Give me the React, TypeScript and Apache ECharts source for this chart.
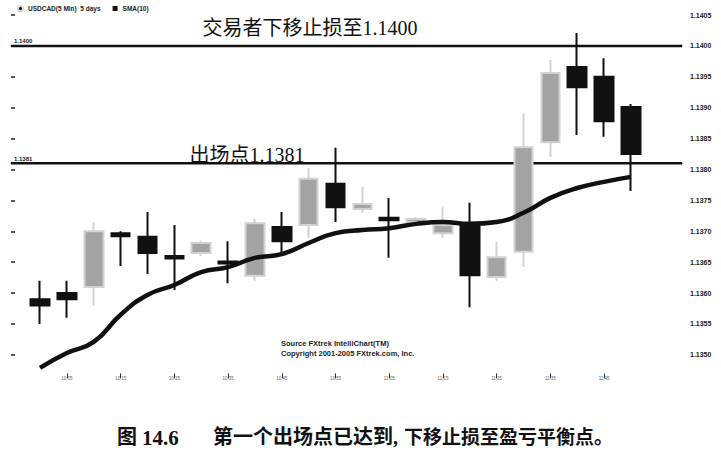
import React, { useEffect, useRef } from 'react';
import * as echarts from 'echarts';

const categories = ['10:00', '10:05', '10:10', '10:15', '10:20', '10:25', '10:30', '10:35', '10:40', '10:45', '10:50', '10:55', '11:00', '11:05', '11:10', '11:15', '11:20', '11:25', '11:30', '11:35', '11:40', '11:45', '11:50'];
const opens = [1.1359, 1.1360, 1.1361, 1.13697, 1.13691, 1.1366, 1.13665, 1.13651, 1.13628, 1.13707, 1.1371, 1.13777, 1.13736, 1.13722, 1.13715, 1.13697, 1.1371, 1.13626, 1.13667, 1.13844, 1.13966, 1.1395, 1.13901];
const closes = [1.1358, 1.1359, 1.1370, 1.13692, 1.13665, 1.13656, 1.13681, 1.13648, 1.13713, 1.13684, 1.13785, 1.13739, 1.13744, 1.13718, 1.1372, 1.1371, 1.13629, 1.13658, 1.13836, 1.13956, 1.13933, 1.13878, 1.13825];
const lows = [1.1355, 1.1356, 1.1358, 1.13644, 1.13631, 1.13605, 1.1366, 1.13616, 1.1362, 1.13665, 1.1369, 1.13715, 1.1373, 1.13657, 1.1371, 1.13689, 1.13577, 1.1362, 1.13642, 1.1382, 1.13856, 1.13853, 1.13765];
const highs = [1.1362, 1.1362, 1.13715, 1.1370, 1.13731, 1.1371, 1.13685, 1.13684, 1.1372, 1.13731, 1.13802, 1.13835, 1.13772, 1.13754, 1.13723, 1.13739, 1.13746, 1.13683, 1.13891, 1.13977, 1.14021, 1.1398, 1.13906];
const sma10 = [1.13479, 1.13503, 1.13521, 1.13565, 1.13597, 1.13613, 1.13634, 1.13642, 1.13657, 1.13663, 1.13681, 1.13697, 1.13702, 1.13705, 1.13712, 1.13715, 1.13712, 1.13715, 1.1373, 1.13754, 1.1377, 1.1378, 1.13788];
const yTicks = [1.1350, 1.1355, 1.1360, 1.1365, 1.1370, 1.1375, 1.1380, 1.1385, 1.1390, 1.1395, 1.1400, 1.1405];
const stopLevels = [1.1400, 1.1381];

const Y_MIN = 1.1347;
const Y_MAX = 1.1405;

const serifCJK = "'Liberation Serif', 'Noto Sans CJK SC', serif";
const cjk = "'Liberation Serif', 'Noto Sans CJK SC', sans-serif";

export default function App() {
  const ref = useRef<HTMLDivElement>(null);
  useEffect(() => {
    if (!ref.current) return;
    const chart = echarts.init(ref.current, null, { renderer: 'svg' });
    const candleData = categories.map((_, i) => [opens[i], closes[i], lows[i], highs[i]]);
    const levelSeries = stopLevels.map((lv) => ({
      type: 'line',
      name: 'level' + lv,
      xAxisIndex: 1,
      yAxisIndex: 1,
      symbol: 'circle',
      symbolSize: 1,
      showSymbol: true,
      itemStyle: { color: '#111' },
      silent: true,
      lineStyle: { color: '#111', width: 2.5 },
      data: [
        {
          value: [0, lv],
          label: {
            show: true,
            position: 'top',
            align: 'left',
            distance: 1,
            offset: [3, 0],
            formatter: lv.toFixed(4),
            fontSize: 6,
            fontWeight: 'bold',
            color: '#222',
            fontFamily: 'Liberation Sans',
          },
        },
        { value: [1, lv], label: { show: false } },
      ],
      z: 1,
    }));

    const option: any = {
      animation: false,
      backgroundColor: '#fff',
      legend: {
        left: 12,
        top: 0,
        itemWidth: 5,
        itemHeight: 5,
        itemGap: 12,
        textStyle: { fontSize: 6.5, color: '#222', fontWeight: 'bold', fontFamily: 'Liberation Sans' },
        data: [
          { name: 'USDCAD(5 Min)  5 days', icon: 'circle', itemStyle: { color: '#111' } },
          { name: 'SMA(10)', icon: 'rect', itemStyle: { color: '#111' } },
        ],
      },
      grid: [
        { left: 26.6, right: 76.6, top: 15, bottom: 89.6 },
        { left: 11, right: 39, top: 15, bottom: 89.6 },
      ],
      xAxis: [
        {
          type: 'category',
          gridIndex: 0,
          data: categories,
          boundaryGap: true,
          axisLine: { show: false },
          axisTick: {
            show: true,
            alignWithLabel: true,
            length: 5,
            interval: (i: number) => i % 2 === 1,
            lineStyle: { color: '#333', width: 1 },
          },
          axisLabel: {
            show: true,
            interval: (i: number) => i % 2 === 1,
            fontSize: 4.5,
            color: '#666',
            margin: 3,
          },
          splitLine: { show: false },
        },
        {
          type: 'value',
          gridIndex: 1,
          min: 0,
          max: 1,
          show: false,
        },
      ],
      yAxis: [
        {
          type: 'value',
          gridIndex: 0,
          min: Y_MIN,
          max: Y_MAX,
          show: false,
          scale: true,
        },
        {
          type: 'value',
          gridIndex: 1,
          min: Y_MIN,
          max: Y_MAX,
          position: 'right',
          scale: true,
          axisLine: { show: false },
          splitLine: { show: false },
          axisTick: {
            show: true,
            length: 4,
            customValues: yTicks,
            lineStyle: { color: '#222', width: 1.5 },
          },
          axisLabel: {
            show: true,
            customValues: yTicks,
            formatter: (v: number) => v.toFixed(4),
            fontSize: 7,
            fontWeight: 'bold',
            color: '#222',
            margin: 8,
            fontFamily: 'Liberation Sans',
            showMaxLabel: true,
            showMinLabel: true,
          },
        },
      ],
      series: [
        ...levelSeries,
        {
          type: 'candlestick',
          name: 'USDCAD(5 Min)  5 days',
          xAxisIndex: 0,
          yAxisIndex: 0,
          barWidth: 19,
          data: candleData,
          itemStyle: {
            color: '#a3a3a3',
            color0: '#111',
            borderColor: '#d2d2d2',
            borderColor0: '#111',
            borderColorDoji: '#111',
            borderWidth: 2,
          },
          z: 2,
        },
        {
          type: 'line',
          name: 'SMA(10)',
          xAxisIndex: 0,
          yAxisIndex: 0,
          data: sma10,
          smooth: true,
          symbol: 'none',
          lineStyle: { color: '#111', width: 4.5 },
          z: 3,
        },
      ],
      graphic: [
        {
          type: 'text',
          style: {
            text: '交易者下移止损至1.1400',
            x: 310,
            y: 28,
            textAlign: 'center',
            textVerticalAlign: 'middle',
            fontSize: 20,
            fontFamily: serifCJK,
            fill: '#111',
          },
        },
        {
          type: 'text',
          style: {
            text: '出场点1.1381',
            x: 247,
            y: 155,
            textAlign: 'center',
            textVerticalAlign: 'middle',
            fontSize: 20,
            fontFamily: serifCJK,
            fill: '#111',
          },
        },
        {
          type: 'text',
          style: {
            text: 'Source FXtrek IntelliChart(TM)\nCopyright 2001-2005 FXtrek.com, Inc.',
            x: 281,
            y: 338,
            fontSize: 7.5,
            lineHeight: 10,
            fontWeight: 'bold',
            fontFamily: "'Liberation Sans Narrow', 'Liberation Sans', sans-serif",
            fill: '#222',
          },
        },
        {
          type: 'text',
          style: {
            text: '图',
            x: 117,
            y: 437,
            textVerticalAlign: 'middle',
            fontSize: 20,
            fontWeight: 'bold',
            fontFamily: cjk,
            fill: '#111',
          },
        },
        {
          type: 'text',
          style: {
            text: '14.6',
            x: 142,
            y: 438,
            textVerticalAlign: 'middle',
            fontSize: 21,
            fontWeight: 'bold',
            fontFamily: cjk,
            fill: '#111',
          },
        },
        {
          type: 'text',
          style: {
            text: '第一个出场点已达到,',
            x: 213,
            y: 437,
            textVerticalAlign: 'middle',
            fontSize: 20,
            fontWeight: 'bold',
            fontFamily: cjk,
            fill: '#111',
          },
        },
        {
          type: 'text',
          style: {
            text: '下移止损至盈亏平衡点。',
            x: 404,
            y: 437,
            textVerticalAlign: 'middle',
            fontSize: 19,
            fontWeight: 'bold',
            fontFamily: cjk,
            fill: '#111',
          },
        },
      ],
    };
    chart.setOption(option);
    return () => chart.dispose();
  }, []);
  return (
    <div
      ref={ref}
      style={{ position: 'fixed', left: 0, top: 0, width: 721, height: 463, background: '#fff' }}
    />
  );
}
